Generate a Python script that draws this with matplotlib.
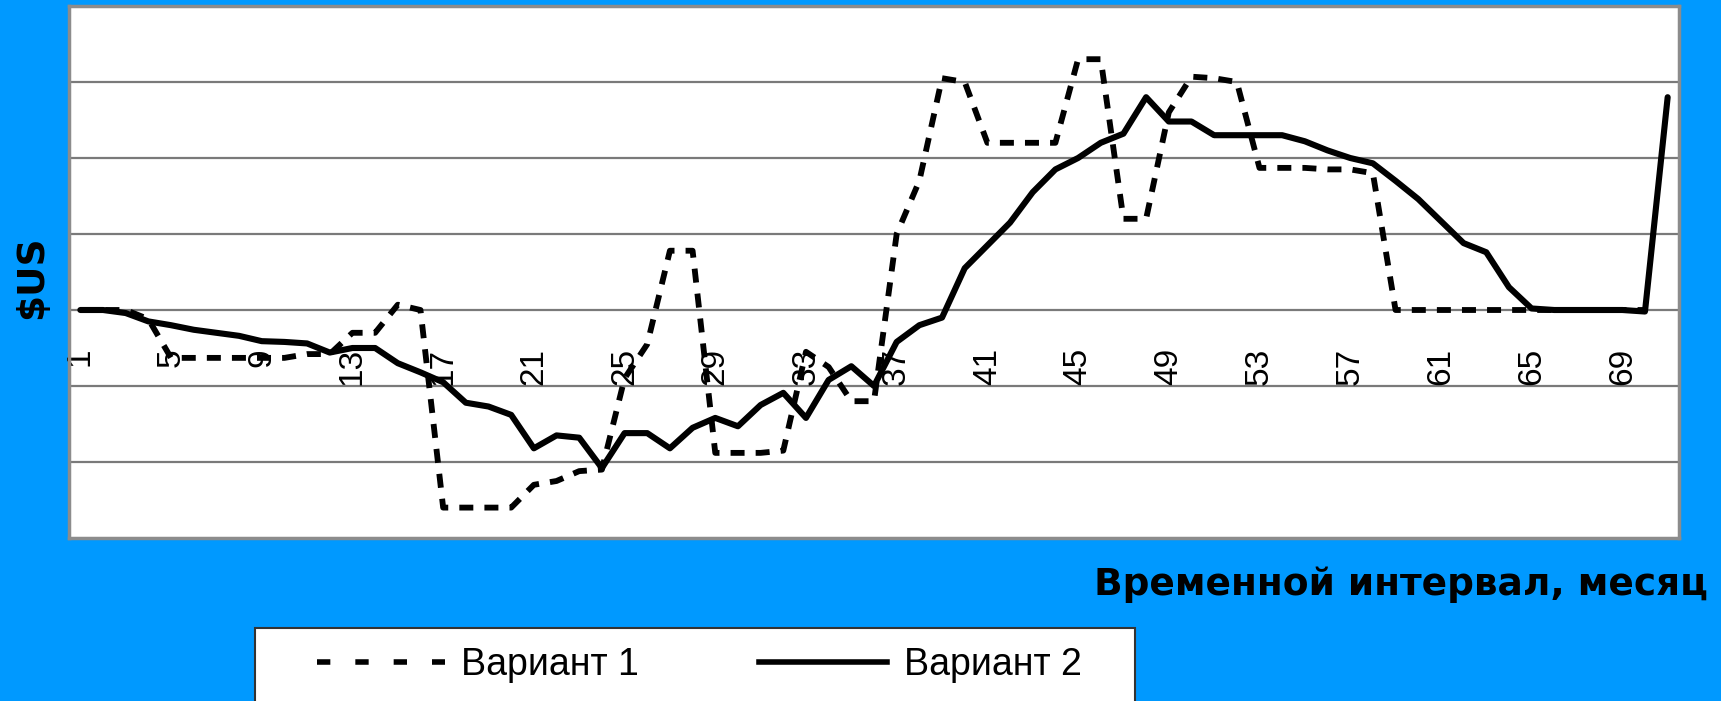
import matplotlib
matplotlib.use("Agg")
import matplotlib.pyplot as plt
from matplotlib import font_manager
from matplotlib.font_manager import FontProperties
from matplotlib.lines import Line2D
from matplotlib.patches import Rectangle
import numpy as np

# данные (месяцы 1..71)
months = list(range(1, 72))

variant1 = [0, 0, 0, -0.12, -0.63, -0.63, -0.63, -0.63, -0.63, -0.63,
            -0.58, -0.58, -0.3, -0.3, 0.07, 0.0, -2.6, -2.6, -2.6, -2.6,
            -2.3, -2.25, -2.12, -2.1, -0.9, -0.45, 0.78, 0.78, -1.88, -1.88,
            -1.88, -1.85, -0.55, -0.75, -1.2, -1.2, 1.0, 1.7, 3.05, 3.0,
            2.2, 2.2, 2.2, 2.2, 3.3, 3.3, 1.2, 1.2, 2.6, 3.07,
            3.05, 3.0, 1.87, 1.87, 1.87, 1.85, 1.85, 1.8, 0, 0,
            0, 0, 0, 0, 0, 0, 0, 0, 0, 0, np.nan]

variant2 = [0, 0, -0.04, -0.15, -0.2, -0.26, -0.3, -0.34, -0.41, -0.42,
            -0.44, -0.56, -0.5, -0.5, -0.7, -0.82, -0.95, -1.22, -1.27, -1.38,
            -1.82, -1.65, -1.68, -2.08, -1.62, -1.62, -1.82, -1.55, -1.42, -1.53,
            -1.25, -1.09, -1.42, -0.92, -0.74, -1.0, -0.42, -0.2, -0.1, 0.55,
            0.85, 1.15, 1.55, 1.85, 2.0, 2.2, 2.32, 2.8, 2.48, 2.48,
            2.3, 2.3, 2.3, 2.3, 2.22, 2.1, 2.0, 1.93, 1.7, 1.46,
            1.17, 0.88, 0.76, 0.3, 0.02, 0, 0, 0, 0, -0.02, 2.8]

tick_months = list(range(1, 70, 4))
series_names = ['Вариант 1', 'Вариант 2']

W, H = 1721, 701
BLUE = '#0099ff'

names = {f.name for f in font_manager.fontManager.ttflist}
tick_family = 'Liberation Sans Narrow' if 'Liberation Sans Narrow' in names else 'Liberation Sans'
tick_size = 28 if tick_family == 'Liberation Sans Narrow' else 24

fig = plt.figure(figsize=(W / 100, H / 100), dpi=100, facecolor=BLUE)
ax = fig.add_axes([69 / W, 1 - 538 / H, 1610 / W, 532 / H])
ax.set_facecolor('white')

dash1 = ax.plot(months, variant1, color='black', linewidth=4.2,
                linestyle=(0, (2.4, 1.9)), dash_capstyle='butt', zorder=3)
line2 = ax.plot(months, variant2, color='black', linewidth=4.4,
                solid_capstyle='round', solid_joinstyle='round', zorder=4)

ax.set_xlim(0.5, 71.5)
ax.set_ylim(-3, 4)
ax.set_yticks([-2, -1, 0, 1, 2, 3])
ax.grid(axis='y', color='#7a7a7a', linewidth=1.6, zorder=1)
ax.tick_params(left=False, labelleft=False, bottom=False, labelbottom=False)
for sp in ax.spines.values():
    sp.set_color('#8c8c8c')
    sp.set_linewidth(2.5)

# подписи категорий под нулевой линией
for m in tick_months:
    ax.text(m, -0.5, str(m), rotation=90, ha='center', va='top',
            family=tick_family, fontsize=tick_size, color='black', zorder=2)

fig.text(32 / W, 1 - 277 / H, '$US', rotation=90, ha='center', va='center',
         family='DejaVu Sans', fontweight='bold', fontsize=27)
fig.text(1708 / W, 1 - 585 / H, 'Временной интервал, месяц', ha='right',
         va='center', family='DejaVu Sans', fontweight='bold', fontsize=27)

# рамка легенды (уходит за нижний край)
box = Rectangle((255 / W, -0.1), 880 / W, (H - 628) / H + 0.1,
                transform=fig.transFigure, facecolor='white',
                edgecolor='#333333', linewidth=1.5, zorder=0)
fig.add_artist(box)

handles = [Line2D([], [], color='black', linewidth=4, linestyle=(0, (2.4, 4.5)),
                  dash_capstyle='butt'),
           Line2D([], [], color='black', linewidth=4)]
leg = fig.legend(handles, series_names, loc='center left',
                 bbox_to_anchor=(317 / W, 1 - 665 / H), ncol=2, frameon=False,
                 handlelength=3.4, handletextpad=0.45, columnspacing=3.2,
                 borderpad=0, borderaxespad=0,
                 prop=FontProperties(family='Liberation Sans', size=27))
leg.set_zorder(5)

fig.savefig('out.png', dpi=100, facecolor=fig.get_facecolor())
